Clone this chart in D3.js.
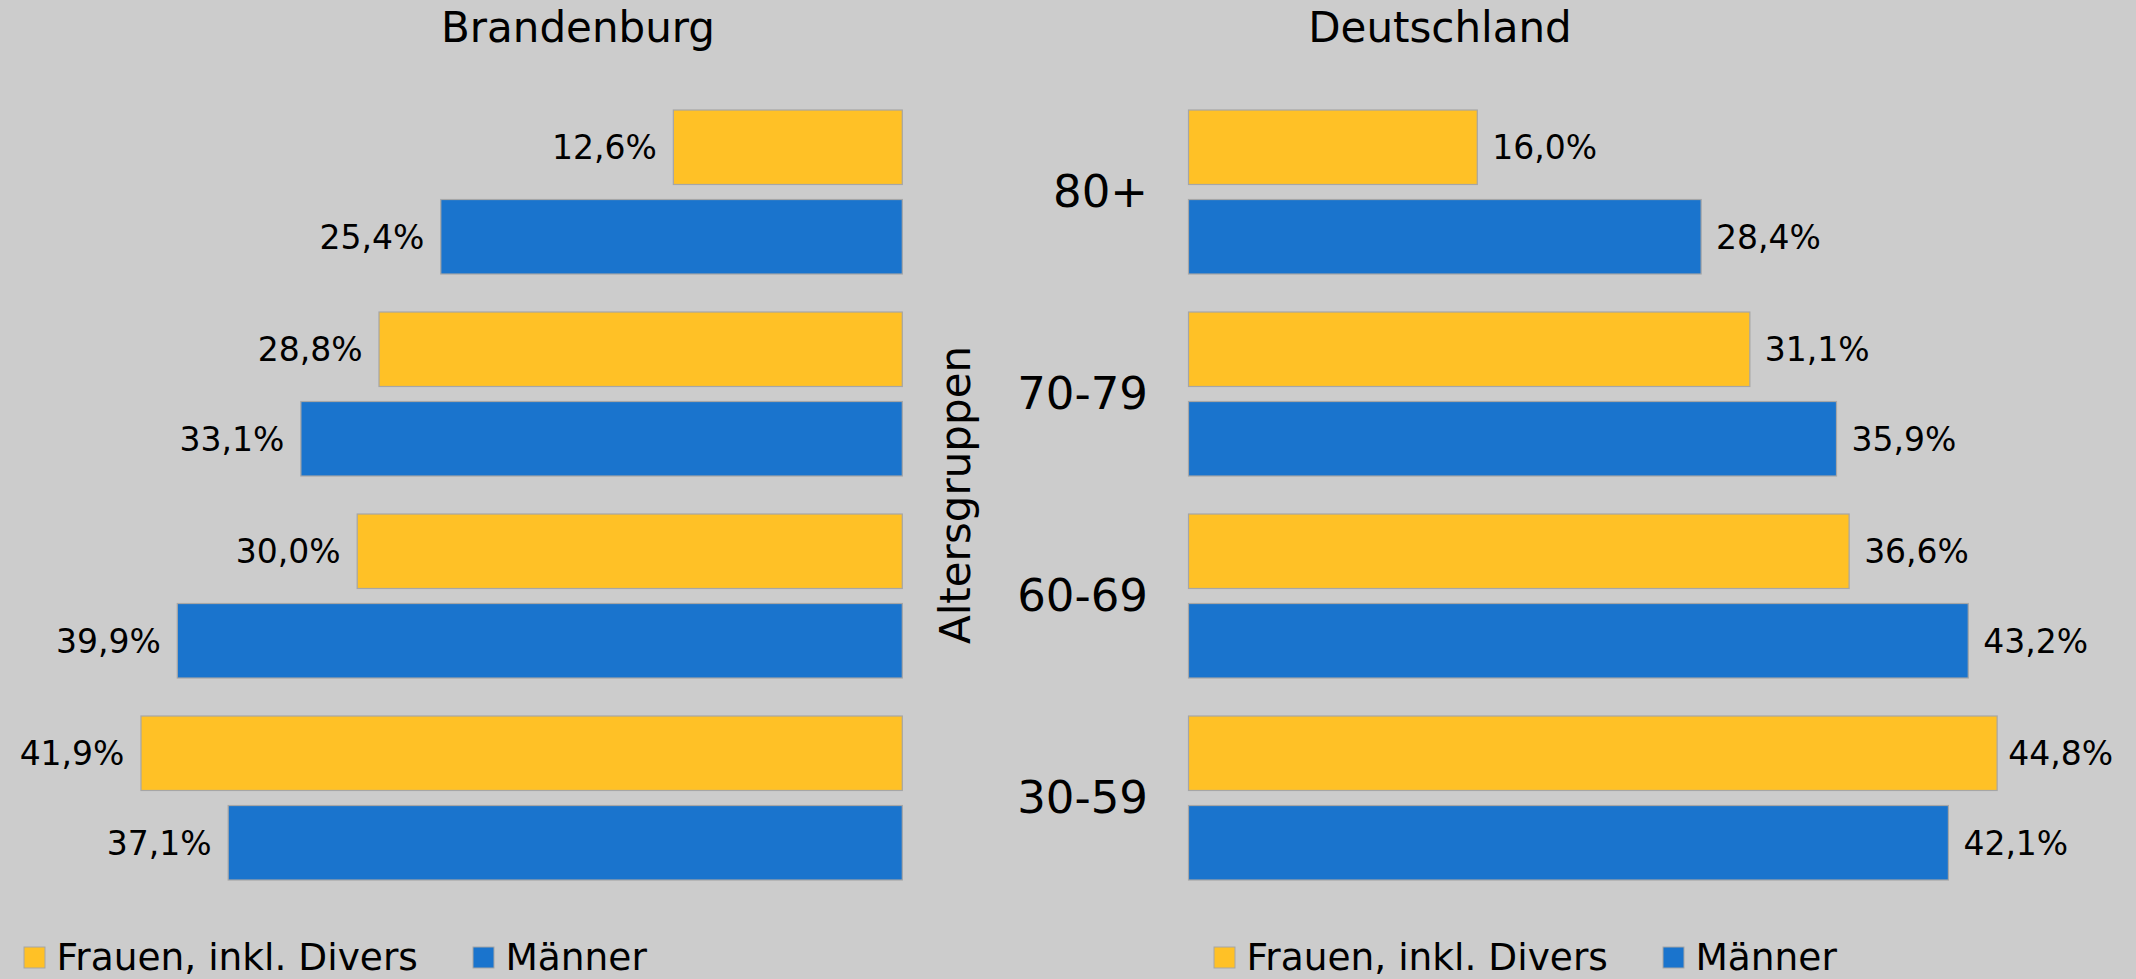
<!DOCTYPE html>
<html>
<head>
<meta charset="utf-8">
<script src="https://cdn.jsdelivr.net/npm/d3@7"></script>
<style>
  body { margin: 0; background: #cccccc; }
  svg { display: block; font-family: "DejaVu Sans", Verdana, sans-serif; }
</style>
</head>
<body>
<svg width="2136" height="979"></svg>
<script>
// Daten
const ageGroups = ["80+", "70-79", "60-69", "30-59"];
const seriesNames = ["Frauen, inkl. Divers", "Männer"];
const brandenburgFrauen = [12.6, 28.8, 30.0, 41.9];
const brandenburgMaenner = [25.4, 33.1, 39.9, 37.1];
const deutschlandFrauen = [16.0, 31.1, 36.6, 44.8];
const deutschlandMaenner = [28.4, 35.9, 43.2, 42.1];
const titles = ["Brandenburg", "Deutschland"];
const axisTitle = "Altersgruppen";

const colors = ["#ffc126", "#1a74cd"];
const fmt = v => d3.format(".1f")(v).replace(".", ",") + "%";

const svg = d3.select("svg");

// gemeinsame y-Skalen
const yGroup = d3.scaleBand().domain(ageGroups).range([91, 899]).paddingInner(38 / 202).paddingOuter(19 / 202);
const ySeries = d3.scaleBand().domain([0, 1]).range([0, yGroup.bandwidth()]).paddingInner(0.168);

const panels = [
  { title: titles[0], titleX: 578, frauen: brandenburgFrauen, maenner: brandenburgMaenner,
    x: d3.scaleLinear().domain([0, 50]).range([902.3, 902.3 - 50 * 18.17]), side: "left", legendX: 24 },
  { title: titles[1], titleX: 1440, frauen: deutschlandFrauen, maenner: deutschlandMaenner,
    x: d3.scaleLinear().domain([0, 50]).range([1188.5, 1188.5 + 50 * 18.05]), side: "right", legendX: 1214 }
];

panels.forEach(p => {
  const g = svg.append("g");
  g.append("text")
    .attr("x", p.titleX).attr("y", 42)
    .attr("text-anchor", "middle")
    .style("font-size", "42px")
    .text(p.title);

  const rows = [];
  ageGroups.forEach((a, i) => {
    rows.push({ group: a, s: 0, v: p.frauen[i] });
    rows.push({ group: a, s: 1, v: p.maenner[i] });
  });

  g.selectAll(".bar").data(rows).enter().append("rect")
    .attr("x", d => Math.min(p.x(0), p.x(d.v)))
    .attr("width", d => Math.abs(p.x(d.v) - p.x(0)))
    .attr("y", d => yGroup(d.group) + ySeries(d.s))
    .attr("height", ySeries.bandwidth())
    .attr("fill", d => colors[d.s])
    .attr("stroke", "#a6a6a6")
    .attr("stroke-width", 1.2);

  g.selectAll(".lbl").data(rows).enter().append("text")
    .attr("x", d => p.side === "left" ? p.x(d.v) - 16.5 : p.x(d.v) + 15)
    .attr("y", d => yGroup(d.group) + ySeries(d.s) + ySeries.bandwidth() / 2)
    .attr("dy", "0.36em")
    .attr("text-anchor", p.side === "left" ? "end" : "start")
    .style("font-size", "33px")
    .text(d => fmt(d.v))
    .each(function () {
      if (p.side === "right") {
        const el = d3.select(this);
        const w = this.getComputedTextLength();
        const x = +el.attr("x");
        if (x + w > 2113) el.attr("x", 2113 - w);
      }
    });

  // Legende
  const lg = g.append("g").attr("transform", `translate(${p.legendX},0)`);
  seriesNames.forEach((name, i) => {
    const off = i * 449;
    lg.append("rect")
      .attr("x", off).attr("y", 947)
      .attr("width", 21).attr("height", 21)
      .attr("fill", colors[i])
      .attr("stroke", "#a6a6a6").attr("stroke-width", 1);
    lg.append("text")
      .attr("x", off + 32.5).attr("y", 970)
      .style("font-size", "37.5px")
      .text(name);
  });
});

// Kategorien in der Mitte
svg.selectAll(".cat").data(ageGroups).enter().append("text")
  .attr("x", 1148)
  .attr("y", d => yGroup(d) + yGroup.bandwidth() / 2)
  .attr("dy", "0.34em")
  .attr("text-anchor", "end")
  .style("font-size", "45px")
  .text(d => d);

svg.append("text")
  .attr("transform", "translate(970,495) rotate(-90)")
  .attr("text-anchor", "middle")
  .style("font-size", "42px")
  .text(axisTitle);
</script>
</body>
</html>
